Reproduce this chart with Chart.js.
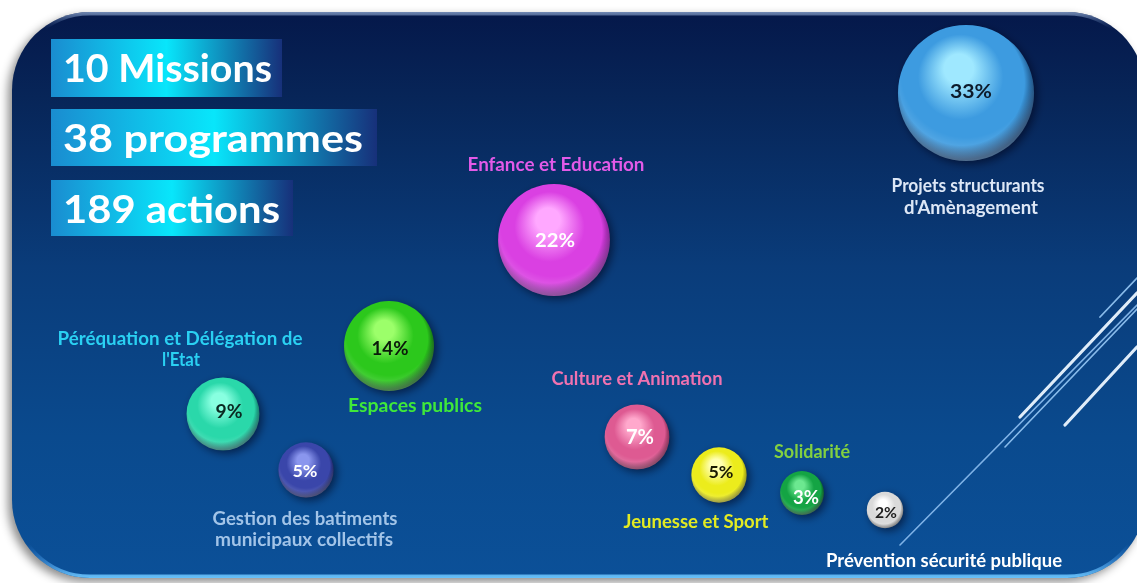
<!DOCTYPE html>
<html><head><meta charset="utf-8">
<script src="https://cdn.jsdelivr.net/npm/chart.js@4.4.0/dist/chart.umd.min.js"></script>
<style>html,body{margin:0;padding:0;background:#fff;overflow:hidden}canvas{display:block}</style>
</head><body><canvas id="c" width="1137" height="583"></canvas>
<script>
// ---------- DATA ----------
const categories = [
  "Projets structurants d'Amènagement",
  "Enfance et Education",
  "Espaces publics",
  "Péréquation et Délégation de l'Etat",
  "Gestion des batiments municipaux collectifs",
  "Culture et Animation",
  "Jeunesse et Sport",
  "Solidarité",
  "Prévention sécurité publique"
];
const shares = [33, 22, 14, 9, 5, 7, 5, 3, 2];          // % of budget
const xValues = [966, 554, 389, 223, 306, 637, 719, 802, 885];
const yValues = [93, 240, 346, 414, 470, 437, 475, 493, 510];
const headlineCounts = [10, 38, 189];
const headlineUnits = ["Missions", "programmes", "actions"];

// ---------- STYLE / LAYOUT ----------
const sphereColors = [
  {hl:'#9fe8ff', base:'#3d9be0', dark:'#123a66', text:'#0d1a2a', size:18, w:42, dx:5, dy:-1},
  {hl:'#ffa8ff', base:'#da40e2', dark:'#6e1880', text:'#ffffff', size:19, w:40, dx:1, dy:0},
  {hl:'#9cff6a', base:'#2cc81c', dark:'#0c5210', text:'#0a1a0a', size:19, w:37, dx:1, dy:2},
  {hl:'#88ffe0', base:'#2ad8aa', dark:'#0c6058', text:'#0a2a22', size:19, w:27, dx:6, dy:-3},
  {hl:'#8a96ee', base:'#3a46aa', dark:'#161c50', text:'#ffffff', size:17, w:25, dx:-1, dy:1},
  {hl:'#ffa8cc', base:'#de5a92', dark:'#701c44', text:'#ffffff', size:20, w:28, dx:3, dy:0},
  {hl:'#ffffb0', base:'#ecec1c', dark:'#84840c', text:'#1a1a00', size:17, w:25, dx:2, dy:-3},
  {hl:'#6ce890', base:'#14a444', dark:'#05441c', text:'#ffffff', size:18, w:26, dx:4, dy:5},
  {hl:'#ffffff', base:'#dadada', dark:'#6a6a6a', text:'#202020', size:15, w:22, dx:1, dy:3}
];
const labelLayout = [
  {lines:[["Projets structurants",968,192,153],["d'Amènagement",971,214,134]], color:'#dde7f6'},
  {lines:[["Enfance et Education",556,171,177]], color:'#e35ae8'},
  {lines:[["Espaces publics",415,412,134]], color:'#3fe83a'},
  {lines:[["Péréquation et Délégation de",180,345,245],["l'Etat",181,366,38]], color:'#2ad0f2'},
  {lines:[["Gestion des batiments",305,525,185],["municipaux collectifs",304,546,178]], color:'#a2c4e8'},
  {lines:[["Culture et Animation",637,385,171]], color:'#f072b0'},
  {lines:[["Jeunesse et Sport",696,528,145]], color:'#e2ea22'},
  {lines:[["Solidarité",812,458,76]], color:'#82d040'},
  {lines:[["Prévention sécurité publique",944,567,236]], color:'#ffffff'}
];
const headlineBoxes = [
  {x:51, y:39, w:231, h:58, base:82, tw:209},
  {x:51, y:109, w:326, h:57, base:152, tw:300},
  {x:51, y:180, w:242, h:56, base:223, tw:217}
];
const FONT = 'Lato, "Open Sans", sans-serif';
function radiusFor(v){ return 2 + 11.5 * Math.sqrt(v); }

function fitText(ctx, text, cx, base, width, size, color, align){
  ctx.save();
  ctx.font = `bold ${size}px ${FONT}`;
  const m = ctx.measureText(text).width;
  ctx.translate(cx, base);
  ctx.scale(width / m, 1);
  ctx.textAlign = align || 'center';
  ctx.textBaseline = 'alphabetic';
  ctx.fillStyle = color;
  ctx.fillText(text, 0, 0);
  ctx.restore();
}

function panelPath(ctx){
  const x0=12, y0=12, x1=1145, y1=578, R=78;
  ctx.beginPath();
  ctx.moveTo(x0+R, y0);
  ctx.lineTo(x1-R, y0);
  ctx.arcTo(x1, y0, x1, y0+R, R);
  ctx.lineTo(x1, y1-R);
  ctx.arcTo(x1, y1, x1-R, y1, R);
  ctx.lineTo(x0+R, y1);
  ctx.arcTo(x0, y1, x0, y1-R, R);
  ctx.lineTo(x0, y0+R);
  ctx.arcTo(x0, y0, x0+R, y0, R);
  ctx.closePath();
}

const backgroundPlugin = {
  id:'bg',
  beforeDraw(chart){
    const ctx = chart.ctx;
    ctx.save();
    ctx.fillStyle = '#ffffff';
    ctx.fillRect(0,0,chart.width,chart.height);
    ctx.shadowColor = 'rgba(0,0,0,0.45)';
    ctx.shadowBlur = 10; ctx.shadowOffsetX = -4; ctx.shadowOffsetY = 4;
    const g = ctx.createLinearGradient(0,12,0,578);
    g.addColorStop(0,'#05184a'); g.addColorStop(0.15,'#072558');
    g.addColorStop(0.45,'#0a3c7a'); g.addColorStop(0.75,'#0a4a8e'); g.addColorStop(1,'#0b5098');
    panelPath(ctx); ctx.fillStyle = g; ctx.fill();
    ctx.shadowColor = 'transparent';
    ctx.save();
    panelPath(ctx); ctx.clip();
    const sg = ctx.createLinearGradient(0,12,0,578);
    sg.addColorStop(0,'rgba(150,175,215,0.75)'); sg.addColorStop(0.03,'rgba(60,90,140,0)');
    sg.addColorStop(0.94,'rgba(60,140,230,0)'); sg.addColorStop(1,'rgba(110,200,255,0.95)');
    panelPath(ctx); ctx.lineWidth = 7; ctx.strokeStyle = sg; ctx.stroke();
    ctx.lineCap = 'round';
    const lines = [
      [900,545,1137,305,1.6,'rgba(140,190,240,0.9)'],
      [1005,447,1137,309,1.6,'rgba(150,200,245,0.9)'],
      [1020,417,1137,293,3.2,'rgba(235,245,255,0.95)'],
      [1100,317,1137,278,1.8,'rgba(150,200,245,0.9)'],
      [1065,425,1137,347,3.2,'rgba(235,245,255,0.95)']
    ];
    lines.forEach(l=>{ ctx.beginPath(); ctx.moveTo(l[0],l[1]); ctx.lineTo(l[2],l[3]); ctx.lineWidth=l[4]; ctx.strokeStyle=l[5]; ctx.stroke(); });
    ctx.restore();
    headlineBoxes.forEach((b,i)=>{
      const hg = ctx.createLinearGradient(b.x,0,b.x+b.w,0);
      hg.addColorStop(0,'#1a8cd0'); hg.addColorStop(0.5,'#08e6fb'); hg.addColorStop(1,'#17307a');
      ctx.fillStyle = hg; ctx.fillRect(b.x,b.y,b.w,b.h);
      fitText(ctx, headlineCounts[i] + ' ' + headlineUnits[i], 63, b.base, b.tw, 39, '#ffffff', 'left');
    });
    ctx.restore();
  },
  beforeDatasetDraw(chart){
    const ctx = chart.ctx;
    ctx.save();
    ctx.shadowColor = 'rgba(0,0,20,0.55)';
    ctx.shadowBlur = 8; ctx.shadowOffsetX = 3; ctx.shadowOffsetY = 3;
  },
  afterDatasetDraw(chart){
    chart.ctx.restore();
  },
  afterDatasetsDraw(chart){
    const ctx = chart.ctx;
    const meta = chart.getDatasetMeta(0);
    meta.data.forEach((el,i)=>{
      const r = el.options.radius, cx = el.x, cy = el.y;
      ctx.save();
      ctx.beginPath(); ctx.arc(cx,cy,r,0,Math.PI*2); ctx.clip();
      const rg = ctx.createRadialGradient(cx, cy - r*0.3, r*0.95, cx, cy - r*0.3, r*1.32);
      rg.addColorStop(0,'rgba(255,255,255,0)');
      rg.addColorStop(1,'rgba(255,255,255,0.28)');
      ctx.fillStyle = rg;
      ctx.fillRect(cx-r, cy-r, 2*r, 2*r);
      ctx.restore();
      const c = sphereColors[i];
      fitText(ctx, shares[i] + '%', cx + c.dx, cy + c.dy + c.size*0.36, c.w, c.size, c.text, 'center');
    });
    labelLayout.forEach(L=>{
      L.lines.forEach(ln=> fitText(ctx, ln[0], ln[1], ln[2], ln[3], 18, L.color, 'center'));
    });
  }
};

new Chart(document.getElementById('c'), {
  type:'bubble',
  data:{
    labels: categories,
    datasets:[{
      label:'Répartition',
      data: shares.map((v,i)=>({x:xValues[i], y:yValues[i], r:radiusFor(v)})),
      borderWidth:0,
      clip:false,
      backgroundColor(ctx){
        const chart = ctx.chart, c = sphereColors[ctx.dataIndex];
        if(!chart.chartArea || !ctx.raw) return c.base;
        const cx = chart.scales.x.getPixelForValue(ctx.raw.x);
        const cy = chart.scales.y.getPixelForValue(ctx.raw.y);
        const r = ctx.raw.r;
        const g = chart.ctx.createRadialGradient(cx - r*0.12, cy - r*0.42, 0, cx - r*0.05, cy - r*0.1, r*1.08);
        g.addColorStop(0, c.hl);
        g.addColorStop(0.2, c.hl);
        g.addColorStop(0.58, c.base);
        g.addColorStop(0.85, c.base);
        g.addColorStop(1, c.dark);
        return g;
      }
    }]
  },
  options:{
    responsive:false, animation:false, devicePixelRatio:1, events:[],
    layout:{padding:0, autoPadding:false},
    plugins:{legend:{display:false}, tooltip:{enabled:false}, title:{display:false}},
    scales:{
      x:{type:'linear', min:0, max:1137, display:false},
      y:{type:'linear', min:0, max:583, reverse:true, display:false}
    }
  },
  plugins:[backgroundPlugin]
});
</script>
</body></html>
